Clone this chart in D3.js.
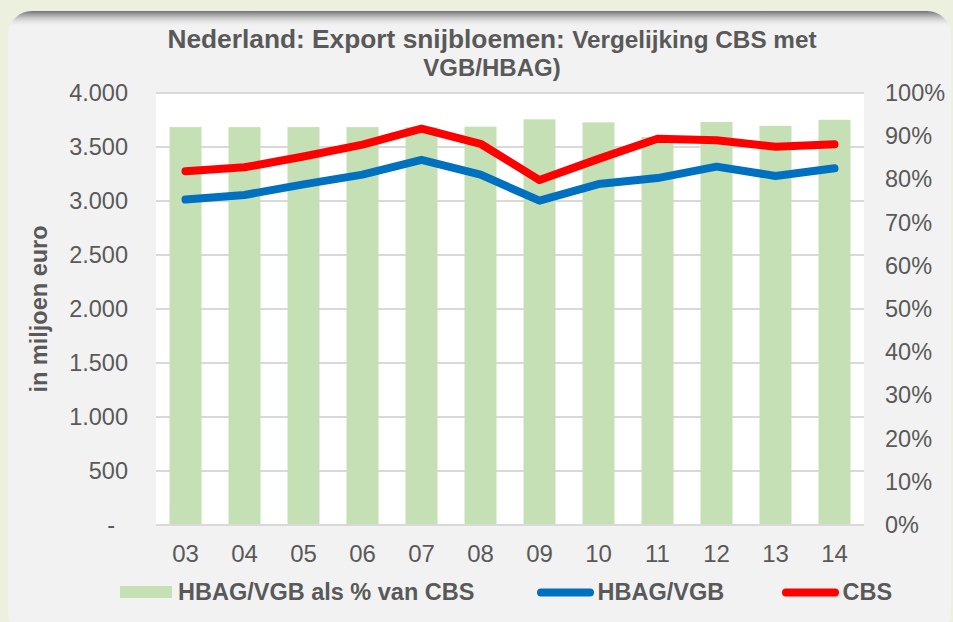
<!DOCTYPE html>
<html><head><meta charset="utf-8">
<script src="https://cdn.jsdelivr.net/npm/d3@7"></script>
<style>
body{margin:0;background:#ebf1de;}
svg{display:block;}
text{font-family:"Liberation Sans",Arial,Helvetica,sans-serif;fill:#595959;}
</style>
</head><body>
<svg id="chart" width="953" height="622"></svg>
<script>
// ---- data ----
const categories = ["03","04","05","06","07","08","09","10","11","12","13","14"];
const cbsValues  = [3275, 3312, 3412, 3522, 3670, 3530, 3194, 3390, 3576, 3562, 3503, 3525];
const hbagValues = [3013, 3056, 3154, 3244, 3380, 3244, 3003, 3157, 3212, 3318, 3232, 3303];
const shareValues = [0.921, 0.921, 0.921, 0.921, 0.921, 0.922, 0.939, 0.932, 0.898, 0.933, 0.924, 0.938];
const leftTicks = [0, 500, 1000, 1500, 2000, 2500, 3000, 3500, 4000];
const rightTicks = [0, 0.1, 0.2, 0.3, 0.4, 0.5, 0.6, 0.7, 0.8, 0.9, 1.0];
const titleMain = "Nederland: Export snijbloemen: ";
const titleRest = "Vergelijking CBS met";
const titleLine2 = "VGB/HBAG)";
const yAxisTitle = "in miljoen euro";
const legendLabels = ["HBAG/VGB als % van CBS", "HBAG/VGB", "CBS"];

// ---- layout ----
const W = 953, H = 622;
const PL = 156, PR = 864, PT = 93, PB = 525;
const TXT = "#595959", GRID = "#d9d9d9";
const GREEN = "#c5e0b4", BLUE = "#0070c0", RED = "#ff0000";
const FONT = '"Liberation Sans",Arial,Helvetica,sans-serif';

const svg = d3.select("#chart");
const defs = svg.append("defs");

// panel background
const shade = defs.append("linearGradient").attr("id","topShade")
  .attr("gradientUnits","userSpaceOnUse").attr("x1",0).attr("y1",11).attr("x2",0).attr("y2",27);
shade.append("stop").attr("offset","0").attr("stop-color","#727272").attr("stop-opacity",1);
shade.append("stop").attr("offset","0.35").attr("stop-color","#b0b0b0").attr("stop-opacity",0.85);
shade.append("stop").attr("offset","1").attr("stop-color","#f2f2f2").attr("stop-opacity",0);

svg.append("rect").attr("x",0).attr("y",0).attr("width",W).attr("height",H).attr("fill","#ebf1de");
svg.append("rect").attr("x",8).attr("y",11).attr("width",943).attr("height",625)
  .attr("rx",24).attr("fill","#f2f2f2");
svg.append("rect").attr("x",8).attr("y",11).attr("width",943).attr("height",625)
  .attr("rx",24).attr("fill","url(#topShade)");

// plot area
svg.append("rect").attr("x",PL).attr("y",PT).attr("width",PR-PL).attr("height",PB-PT).attr("fill","#ffffff");

// scales
const x = d3.scaleBand().domain(categories).range([PL, PR]).paddingInner(0.458).paddingOuter(0.229);
const yL = d3.scaleLinear().domain([0, 4000]).range([PB, PT]);
const yR = d3.scaleLinear().domain([0, 1]).range([PB, PT]);

// gridlines
svg.append("g").selectAll("line").data(leftTicks.filter(d => d > 0)).join("line")
  .attr("x1", PL).attr("x2", PR).attr("y1", d => yL(d)).attr("y2", d => yL(d))
  .attr("stroke", GRID).attr("stroke-width", 2);

// bars
svg.append("g").selectAll("rect").data(categories).join("rect")
  .attr("x", d => x(d)).attr("width", x.bandwidth())
  .attr("y", (d, i) => yR(shareValues[i])).attr("height", (d, i) => PB - yR(shareValues[i]))
  .attr("fill", GREEN);

// base line
svg.append("line").attr("x1", PL).attr("x2", PR).attr("y1", PB).attr("y2", PB)
  .attr("stroke", GRID).attr("stroke-width", 2);

// lines
const line = d3.line().x(d => x(d.c) + x.bandwidth() / 2).y(d => yL(d.v));
const series = [
  {vals: hbagValues, color: BLUE},
  {vals: cbsValues, color: RED}
];
series.forEach(s => {
  svg.append("path")
    .datum(categories.map((c, i) => ({c, v: s.vals[i]})))
    .attr("d", line).attr("fill", "none").attr("stroke", s.color)
    .attr("stroke-width", 8).attr("stroke-linecap", "round").attr("stroke-linejoin", "round");
});

// axes
const nl = d3.formatLocale({decimal: ",", thousands: ".", grouping: [3], currency: ["€", ""]});
const fmt = nl.format(",d");

const gL = svg.append("g").attr("transform", `translate(${PL},0)`)
  .call(d3.axisLeft(yL).tickValues(leftTicks).tickSize(0).tickPadding(28)
    .tickFormat(d => d === 0 ? "-" : fmt(d)));
gL.select(".domain").remove();
gL.selectAll("text").attr("font-family", FONT).attr("font-size", "23.5px").style("fill", TXT)
  .attr("x", d => d === 0 ? -41 : -28);

const gR = svg.append("g").attr("transform", `translate(${PR},0)`)
  .call(d3.axisRight(yR).tickValues(rightTicks).tickSize(0).tickPadding(21)
    .tickFormat(d3.format(".0%")));
gR.select(".domain").remove();
gR.selectAll("text").attr("font-family", FONT).attr("font-size", "23.5px").style("fill", TXT);

const gB = svg.append("g").attr("transform", `translate(0,${PB})`)
  .call(d3.axisBottom(x).tickSize(0).tickPadding(20));
gB.select(".domain").remove();
gB.selectAll("text").attr("font-family", FONT).attr("font-size", "24px").style("fill", TXT);

// y-axis title
svg.append("text").attr("transform", `translate(47,${(PT + PB) / 2}) rotate(-90)`)
  .attr("text-anchor", "middle").attr("font-weight", "bold").attr("font-size", "23.5px")
  .text(yAxisTitle);

// chart title
const t1 = svg.append("text").attr("x", 492).attr("y", 48).attr("text-anchor", "middle")
  .attr("font-weight", "bold");
t1.append("tspan").attr("font-size", "26.3px").text(titleMain);
t1.append("tspan").attr("font-size", "24.3px").text(titleRest);
svg.append("text").attr("x", 492).attr("y", 76).attr("text-anchor", "middle")
  .attr("font-weight", "bold").attr("font-size", "24px").text(titleLine2);

// legend
const lg = svg.append("g").attr("font-weight", "bold").attr("font-size", "23.5px");
lg.append("rect").attr("x", 120).attr("y", 586).attr("width", 52).attr("height", 12).attr("fill", GREEN);
lg.append("text").attr("x", 178).attr("y", 600).text(legendLabels[0]);
lg.append("line").attr("x1", 541).attr("x2", 590).attr("y1", 592.5).attr("y2", 592.5)
  .attr("stroke", BLUE).attr("stroke-width", 8).attr("stroke-linecap", "round");
lg.append("text").attr("x", 597.5).attr("y", 600).text(legendLabels[1]);
lg.append("line").attr("x1", 786).attr("x2", 835).attr("y1", 592.5).attr("y2", 592.5)
  .attr("stroke", RED).attr("stroke-width", 8).attr("stroke-linecap", "round");
lg.append("text").attr("x", 842.5).attr("y", 600).text(legendLabels[2]);
</script>
</body></html>
